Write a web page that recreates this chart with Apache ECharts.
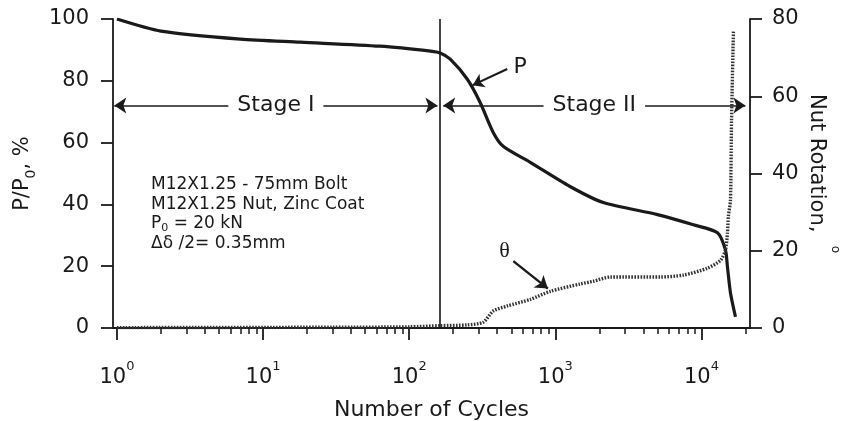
<!DOCTYPE html>
<html>
<head>
<meta charset="utf-8">
<script src="https://cdn.jsdelivr.net/npm/echarts@6/dist/echarts.min.js"></script>
<style>
  html, body { margin: 0; background: #fff; }
  #chart { width: 842px; height: 421px; }
</style>
</head>
<body>
<div id="chart"></div>
<script>
// preload P/P0 (%) against number of cycles
const loadCycles = [1, 2, 7, 18, 63, 140, 163, 191, 250, 306, 376, 440, 674, 1260, 2133, 5000, 8810, 12880, 14590, 15070, 15800, 17100]
const loadRatio = [100, 96.1, 93.5, 92.5, 91.2, 89.6, 89.0, 87, 80.5, 73, 63.3, 58.8, 53.6, 45.8, 40.6, 36.7, 33.4, 30.8, 25.3, 19.8, 11.4, 3.6]

// nut rotation (deg) against number of cycles
const rotationCycles = [1, 30, 100, 163, 250, 321, 376, 469, 674, 925, 1483, 1820, 2380, 5240, 7530, 11000, 13490, 14590, 15070, 15300, 15800, 16070, 16560]
const rotationDeg = [0.1, 0.2, 0.3, 0.6, 0.8, 1.5, 4.4, 5.7, 7.4, 9.5, 11.4, 12.1, 13.2, 13.2, 13.7, 15.5, 17.5, 20.1, 24.5, 29, 33, 53.7, 76.9]

const majorTicks = [1, 10, 100, 1000, 10000]
const minorTicks = [2, 3, 4, 5, 6, 7, 8, 9, 20, 30, 40, 50, 60, 70, 80, 90, 200, 300, 400, 500, 600, 700, 800, 900,
  2000, 3000, 4000, 5000, 6000, 7000, 8000, 9000, 20000]

const stageBoundary = 163
const stageLevel = 72
const specimenNotes = ["M12X1.25 - 75mm Bolt", "M12X1.25 Nut, Zinc Coat", "P{sub|0} = 20 kN", "Δδ /2= 0.35mm"]

const ink = "#1a1a1a"
const font = "DejaVu Sans"
const xMin = 0.94
const xMax = 21500

const chart = echarts.init(document.getElementById("chart"), null, { renderer: "canvas" })

const baseX = {
  type: "log",
  logBase: 10,
  min: xMin,
  max: xMax,
  position: "bottom",
  offset: 3,
  splitLine: { show: false }
}

chart.setOption({
  animation: false,
  backgroundColor: "#fff",
  grid: { left: 113, right: 92, top: 19, bottom: 93, containLabel: false, outerBoundsMode: "none" },
  xAxis: [
    {
      ...baseX,
      name: "Number of Cycles",
      nameLocation: "middle",
      nameGap: 68,
      nameTextStyle: { fontFamily: font, fontSize: 22, color: ink },
      axisLine: { show: true, lineStyle: { color: ink, width: 1.8 } },
      axisTick: { show: true, customValues: majorTicks, length: 12, lineStyle: { color: ink, width: 1.8 } },
      minorTick: { show: false },
      axisLabel: {
        customValues: majorTicks,
        margin: 29,
        formatter: (value) => `{b|10}{e|${Math.round(Math.log10(value))}}`,
        rich: {
          b: { fontFamily: font, fontSize: 21, color: ink, verticalAlign: "bottom", lineHeight: 28 },
          e: { fontFamily: font, fontSize: 13, color: ink, verticalAlign: "top", lineHeight: 28 }
        }
      }
    },
    {
      ...baseX,
      axisLine: { show: false },
      axisTick: { show: true, customValues: minorTicks, length: 6, lineStyle: { color: ink, width: 1.5 } },
      axisLabel: { show: false }
    }
  ],
  yAxis: [
    {
      type: "value",
      min: 0,
      max: 100,
      interval: 20,
      position: "left",
      name: "P/P{sub|0}, %",
      nameLocation: "middle",
      nameRotate: 90,
      nameGap: 72,
      nameTextStyle: {
        fontFamily: font, fontSize: 21, color: ink,
        rich: { sub: { fontFamily: font, fontSize: 14, color: ink, verticalAlign: "bottom", lineHeight: 30 } }
      },
      splitLine: { show: false },
      axisLine: { show: true, lineStyle: { color: ink, width: 1.8 } },
      axisTick: { show: true, length: 12, lineStyle: { color: ink, width: 1.8 } },
      axisLabel: { margin: 24, fontFamily: font, fontSize: 21, color: ink }
    },
    {
      type: "value",
      min: 0,
      max: 80,
      interval: 20,
      position: "right",
      name: "Nut Rotation,  {sup|o}",
      nameLocation: "middle",
      nameRotate: -90,
      nameGap: 41,
      nameMoveOverlap: false,
      nameTextStyle: {
        fontFamily: font, fontSize: 21, color: ink,
        rich: { sup: { fontFamily: font, fontSize: 12, color: ink, verticalAlign: "top", lineHeight: 50 } }
      },
      splitLine: { show: false },
      axisLine: { show: true, lineStyle: { color: ink, width: 1.8 } },
      axisTick: { show: true, length: 12, lineStyle: { color: ink, width: 1.8 } },
      axisLabel: { margin: 22, fontFamily: font, fontSize: 21, color: ink }
    }
  ],
  graphic: [
    {
      type: "text",
      left: 151,
      top: 175,
      style: {
        text: specimenNotes.join("\n"),
        fontFamily: font,
        fontSize: 17,
        lineHeight: 19.5,
        fill: ink,
        rich: { sub: { fontFamily: font, fontSize: 11, fill: ink, verticalAlign: "bottom", lineHeight: 19.5 } }
      }
    }
  ],
  series: [
    {
      name: "P",
      type: "line",
      xAxisIndex: 0,
      yAxisIndex: 0,
      data: loadCycles.map((n, i) => [n, loadRatio[i]]),
      showSymbol: false,
      smooth: 0.25,
      lineStyle: { color: ink, width: 3.2 },
      markLine: {
        silent: true,
        animation: false,
        lineStyle: { color: ink, width: 1.6, type: "solid" },
        data: [
          [
            { coord: [stageBoundary, 0], symbol: "none" },
            { coord: [stageBoundary, 100], symbol: "none", label: { show: false } }
          ],
          [
            { coord: [0.96, stageLevel], symbol: "arrow", symbolSize: 12 },
            { coord: [156, stageLevel], symbol: "arrow", symbolSize: 12,
              label: stageLabel("Stage I") }
          ],
          [
            { coord: [171, stageLevel], symbol: "arrow", symbolSize: 12 },
            { coord: [20000, stageLevel], symbol: "arrow", symbolSize: 12,
              label: stageLabel("Stage II") }
          ],
          [
            { coord: [469, 83.8], symbol: "none" },
            { coord: [272, 78.6], symbol: "arrow", symbolSize: 11, lineStyle: { width: 2.2 }, label: { show: false } }
          ]
        ]
      },
      markPoint: {
        silent: true,
        symbol: "circle",
        symbolSize: 1,
        itemStyle: { color: "rgba(0,0,0,0)" },
        label: { show: true, position: "inside", formatter: "{b}", fontFamily: font, fontSize: 22, color: ink },
        data: [{ name: "P", coord: [575, 84.5] }]
      }
    },
    {
      name: "θ",
      type: "line",
      xAxisIndex: 0,
      yAxisIndex: 1,
      data: rotationCycles.map((n, i) => [n, rotationDeg[i]]),
      showSymbol: false,
      smooth: 0.25,
      lineStyle: { color: "#333", width: 3.4, type: [1.6, 1.4] },
      markLine: {
        silent: true,
        animation: false,
        lineStyle: { color: ink, width: 2.4, type: "solid" },
        data: [
          [
            { coord: [516, 17.3], symbol: "none" },
            { coord: [890, 10.2], symbol: "arrow", symbolSize: 12, label: { show: false } }
          ]
        ]
      },
      markPoint: {
        silent: true,
        symbol: "circle",
        symbolSize: 1,
        itemStyle: { color: "rgba(0,0,0,0)" },
        label: { show: true, position: "inside", formatter: "{b}", fontFamily: "Liberation Serif", fontSize: 22, color: ink },
        data: [{ name: "θ", coord: [450, 20] }]
      }
    }
  ]
})

function stageLabel(text) {
  return {
    show: true,
    position: "insideMiddle",
    formatter: text,
    fontFamily: font,
    fontSize: 22,
    color: ink,
    backgroundColor: "#fff",
    padding: [2, 9]
  }
}
</script>
</body>
</html>
